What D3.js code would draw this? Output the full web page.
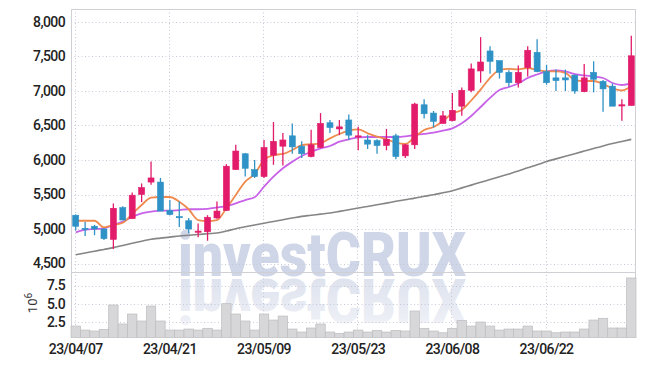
<!DOCTYPE html>
<html><head><meta charset="utf-8">
<script src="https://cdn.jsdelivr.net/npm/d3@7/dist/d3.min.js"></script>
<style>body{margin:0;background:#fff}svg{display:block}</style>
</head><body><svg id="c" width="645" height="366"></svg>
<script>
const dates = ["23/04/07","23/04/10","23/04/11","23/04/12","23/04/13","23/04/14","23/04/17","23/04/18","23/04/19","23/04/20",
"23/04/21","23/04/24","23/04/25","23/04/26","23/04/27","23/04/28","23/05/02","23/05/03","23/05/04","23/05/08",
"23/05/09","23/05/10","23/05/11","23/05/12","23/05/15","23/05/16","23/05/17","23/05/18","23/05/19","23/05/22",
"23/05/23","23/05/24","23/05/25","23/05/26","23/05/30","23/05/31","23/06/01","23/06/02","23/06/05","23/06/07",
"23/06/08","23/06/09","23/06/12","23/06/13","23/06/14","23/06/15","23/06/16","23/06/19","23/06/20","23/06/21",
"23/06/22","23/06/23","23/06/26","23/06/27","23/06/28","23/06/29","23/06/30","23/07/03","23/07/04","23/07/05"];
const open  = [5200,5010,5040,5000,4850,5310,5150,5500,5680,5680, 5270,5180,5120,4960,4960,5160,5270,5860,6090,5860,
               5760,6070,6200,6350,6200,6050,6180,6540,6450,6580, 6340,6290,6280,6210,6350,6060,6220,6800,6680,6530,
               6570,6780,7010,7290,7580,7440,7270,7120,7340,7560, 7280,7190,7190,7230,6990,7270,7140,7070,6790,6790];
const high  = [5210,5100,5060,5010,5370,5330,5530,5660,5980,5740, 5420,5400,5160,5080,5200,5400,5940,6220,6100,6000,
               6290,6550,6390,6530,6270,6440,6680,6580,6580,6660, 6480,6360,6300,6450,6380,6230,6830,6880,6710,6710,
               6970,7050,7400,7780,7650,7440,7300,7370,7650,7750, 7380,7310,7310,7240,7390,7430,7160,7110,6880,7800];
const low   = [4980,4900,4910,4840,4710,5130,5150,5390,5640,5260, 5200,5030,4940,4880,4830,5150,5260,5860,5760,5740,
               5740,5930,5920,6090,6030,6040,6170,6390,6360,6290, 6140,6160,6090,6140,6010,6030,6160,6600,6470,6530,
               6560,6640,6980,7120,7250,7180,7060,7050,7210,7270, 7090,7000,7000,6960,6980,6980,6700,6780,6570,6790];
const close = [5040,5000,5000,4860,5300,5130,5490,5600,5740,5260, 5210,5170,5000,4970,5170,5260,5910,6130,5880,5760,
               6180,6270,6290,6190,6090,6220,6530,6470,6480,6360, 6350,6230,6210,6300,6050,6220,6810,6670,6560,6640,
               6720,7010,7320,7420,7430,7270,7120,7270,7590,7280, 7120,7150,7160,7000,7190,7170,7030,6780,6800,7510];
const maShort = [5120,5120,5120,5025,5058,5091,5217,5348,5454,5464, 5464,5396,5286,5130,5116,5130,5300,5493,5686,5797,
                 6000,6072,6087,6145,6217,6228,6242,6314,6377,6425, 6445,6387,6338,6300,6251,6232,6333,6435,6478,6565,
                 6677,6725,6862,7019,7191,7304,7319,7312,7333,7304, 7283,7283,7261,7159,7145,7145,7101,7039,7007,7072];
const maMid = [4952,4986,5000,5010,5058,5106,5178,5228,5251,5265, 5265,5275,5286,5286,5293,5312,5333,5372,5420,5459,
               5613,5758,5880,5975,6058,6120,6170,6203,6265,6300, 6329,6333,6333,6333,6333,6341,6362,6377,6396,6425,
               6459,6532,6638,6768,6899,7014,7058,7109,7188,7239, 7283,7297,7283,7246,7225,7210,7188,7116,7087,7109];
const maLong = [4628,4652,4678,4704,4730,4762,4793,4823,4852,4868, 4883,4899,4909,4920,4932,4943,4971,5004,5032,5059,
                5084,5110,5135,5159,5183,5199,5216,5232,5255,5280, 5304,5326,5351,5375,5401,5425,5448,5474,5496,5525,
                5555,5596,5636,5677,5716,5757,5797,5839,5886,5930, 5977,6016,6054,6091,6129,6167,6204,6238,6268,6299];
const volume = [1.95,1.40,1.27,1.50,4.83,2.23,3.60,2.64,4.69,2.64, 1.40,1.40,1.54,1.40,1.64,1.40,5.01,3.60,2.64,1.40,
                3.60,2.77,3.32,1.54,1.13,1.68,2.23,1.13,0.95,1.13, 1.40,1.13,1.36,1.13,1.36,1.27,4.01,1.64,1.27,1.03,
                1.64,2.73,1.95,2.50,1.95,1.40,1.54,1.54,1.95,1.27, 1.27,1.03,1.13,1.13,1.54,2.77,3.01,1.68,1.68,8.53];
const priceTicks = [4500,5000,5500,6000,6500,7000,7500,8000];
const volumeTicks = [2.5,5.0,7.5];
const dateTickIdx = [0,10,20,30,40,50];

const svg = d3.select("#c");
const L = 71, R = 636, T = 9, MB = 272, VB = 337.5;
const FONT = "Roboto,'Liberation Sans',sans-serif";

const x = d3.scaleBand().domain(d3.range(dates.length)).range([L, R]).padding(0);
const bw = x.bandwidth();
const cx = i => x(i) + bw / 2;
const y = d3.scaleLinear().domain([4377, 8188]).range([MB, T]);
const yv = d3.scaleLinear().domain([0.38, 9.28]).range([VB, MB + 0.5]);

// watermark
const defs = svg.append("defs");
const grad = defs.append("linearGradient").attr("id","fade").attr("x1",0).attr("y1",0).attr("x2",0).attr("y2",1);
grad.append("stop").attr("offset","0").attr("stop-color","#fff").attr("stop-opacity",0.05);
grad.append("stop").attr("offset","0.8").attr("stop-color","#fff").attr("stop-opacity",0.45);
grad.append("stop").attr("offset","1").attr("stop-color","#fff").attr("stop-opacity",0.7);
const base = 276;
const wm = svg.append("g");
const wmText = (g) => g.append("text").attr("x",178).attr("y",base).attr("font-family","Roboto,'Liberation Sans',sans-serif")
  .attr("font-weight",900).attr("font-size",62).attr("textLength",288).attr("lengthAdjust","spacingAndGlyphs").text("investCRUX");
wmText(wm).attr("fill","#cfd6e7");
const refl = wm.append("g").attr("transform",`translate(0,${2*base+3}) scale(1,-1)`);
wmText(refl).attr("fill","#dce1ed");
wm.append("rect").attr("x",170).attr("y",base+2).attr("width",300).attr("height",50).attr("fill","url(#fade)");

// grid
const grid = svg.append("g").attr("stroke","#c6c8d8").attr("stroke-width",1).attr("stroke-dasharray","1,2.5");
grid.selectAll(".h").data(priceTicks).join("line").attr("x1",L).attr("x2",R)
  .attr("y1",d=>Math.round(y(d))+0.5).attr("y2",d=>Math.round(y(d))+0.5);
grid.selectAll(".hv").data(volumeTicks).join("line").attr("x1",L).attr("x2",R)
  .attr("y1",d=>Math.round(yv(d))+0.5).attr("y2",d=>Math.round(yv(d))+0.5);
grid.selectAll(".v").data(dateTickIdx).join("line").attr("y1",T).attr("y2",VB)
  .attr("x1",d=>Math.round(cx(d))-0.5).attr("x2",d=>Math.round(cx(d))-0.5);

// frame
const fr = svg.append("g").attr("stroke","#cfcfd4").attr("fill","none");
fr.append("path").attr("d",`M${L+0.5},${VB}V${T+0.5}H${R-0.5}V${VB}`);
fr.append("line").attr("x1",L).attr("x2",R).attr("y1",MB+0.5).attr("y2",MB+0.5);

// volume
svg.append("g").selectAll("rect").data(volume).join("rect")
  .attr("x",(d,i)=>x(i)).attr("width",bw).attr("y",d=>yv(d)).attr("height",d=>VB-yv(d))
  .attr("fill","#d7d7d9").attr("stroke","#bdbdc0").attr("stroke-width",0.7);

// moving averages
const line = d3.line().x((d,i)=>cx(i)).y(d=>y(d)).curve(d3.curveMonotoneX);
svg.append("path").datum(maLong).attr("d",line).attr("fill","none").attr("stroke","#858585").attr("stroke-width",1.6);
svg.append("path").datum(maMid).attr("d",line).attr("fill","none").attr("stroke","#c862e8").attr("stroke-width",1.8);
svg.append("path").datum(maShort).attr("d",line).attr("fill","none").attr("stroke","#ef8a4e").attr("stroke-width",1.8);

// candles
const UP = "#e21c6b", DN = "#2f92c6";
const cd = d3.range(dates.length);
const cg = svg.append("g").selectAll("g").data(cd).join("g")
  .attr("stroke",i=>close[i]>=open[i]?UP:DN).attr("fill",i=>close[i]>=open[i]?UP:DN);
cg.append("line").attr("x1",i=>cx(i)).attr("x2",i=>cx(i)).attr("y1",i=>y(high[i])).attr("y2",i=>y(low[i])).attr("stroke-width",1.3);
cg.append("rect").attr("x",i=>cx(i)-3).attr("width",6)
  .attr("y",i=>y(Math.max(open[i],close[i])))
  .attr("height",i=>Math.max(1.2,Math.abs(y(open[i])-y(close[i])))).attr("stroke-width",0.6);

// axes
const yAxis = d3.axisLeft(y).tickValues(priceTicks).tickFormat(d3.format(",")).tickSize(0).tickPadding(6);
const ga = svg.append("g").attr("transform",`translate(${L},0)`).call(yAxis);
const vAxis = d3.axisLeft(yv).tickValues(volumeTicks).tickFormat(d3.format(".1f")).tickSize(0).tickPadding(6);
const gv = svg.append("g").attr("transform",`translate(${L},0)`).call(vAxis);
const xAxis = d3.axisBottom(x).tickValues(dateTickIdx).tickFormat(i=>dates[i]).tickSize(0).tickPadding(7);
const gx = svg.append("g").attr("transform",`translate(0,${VB})`).call(xAxis);
[ga,gv,gx].forEach(g=>{g.select(".domain").remove();
  g.selectAll("text").attr("font-family",FONT).attr("font-size",14).attr("font-weight",500)
   .attr("letter-spacing","-0.6px").attr("fill","#222");});

svg.append("text").attr("transform","translate(37,303) rotate(-90)").attr("text-anchor","middle")
  .attr("font-family",FONT).attr("font-size",13).attr("fill","#333")
  .call(t=>{t.append("tspan").text("10");t.append("tspan").attr("dy",-5).attr("font-size",10).text("6");});
</script></body></html>
